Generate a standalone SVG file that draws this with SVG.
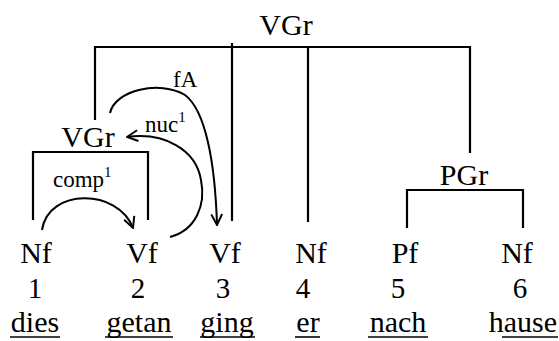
<svg xmlns="http://www.w3.org/2000/svg" width="559" height="341" viewBox="0 0 559 341">
  <style>
    text { font-family: "Liberation Serif", "DejaVu Serif", "Times New Roman", serif; fill: #000; }
    .cat { font-size: 30px; text-anchor: middle; }
    .num { font-size: 29px; text-anchor: middle; }
    .word { font-size: 30px; text-anchor: middle; }
    .lbl { font-size: 23px; }
    .sup { font-size: 15px; }
    .br { fill: none; stroke: #000; stroke-width: 2.2; }
    .arc { fill: none; stroke: #000; stroke-width: 2; }
    .ul { stroke: #000; stroke-width: 1.6; }
  </style>
  <defs>
    <marker id="arr" viewBox="0 0 12 12" refX="11" refY="6" markerWidth="13" markerHeight="13" markerUnits="userSpaceOnUse" orient="auto">
      <path d="M1,1 L11,6 L1,11" fill="none" stroke="#000" stroke-width="1.8"/>
    </marker>
  </defs>

  <rect width="559" height="341" fill="#fff"/>

  <!-- phrase nodes -->
  <g id="vgr-top">
    <text class="cat" x="286" y="35" font-family="Liberation Serif, serif">VGr</text>
  </g>
  <g id="vgr-inner">
    <text class="cat" x="88" y="147">VGr</text>
  </g>
  <g id="pgr">
    <text class="cat" x="464" y="185">PGr</text>
  </g>

  <!-- word nodes: category, position, underlined word form -->
  <g id="w1">
    <text class="cat" x="36" y="263">Nf</text>
    <text class="num" x="35" y="298">1</text>
    <text class="word" x="35" y="332">dies</text>
    <line class="ul" x1="10" y1="337" x2="60" y2="337"/>
  </g>
  <g id="w2">
    <text class="cat" x="142" y="263">Vf</text>
    <text class="num" x="138" y="298">2</text>
    <text class="word" x="139" y="332">getan</text>
    <line class="ul" x1="105" y1="337" x2="173" y2="337"/>
  </g>
  <g id="w3">
    <text class="cat" x="225" y="263">Vf</text>
    <text class="num" x="223" y="298">3</text>
    <text class="word" x="227" y="332">ging</text>
    <line class="ul" x1="200" y1="337" x2="255" y2="337"/>
  </g>
  <g id="w4">
    <text class="cat" x="311" y="263">Nf</text>
    <text class="num" x="303" y="298">4</text>
    <text class="word" x="308" y="332">er</text>
    <line class="ul" x1="295" y1="337" x2="320" y2="337"/>
  </g>
  <g id="w5">
    <text class="cat" x="405" y="263">Pf</text>
    <text class="num" x="398" y="298">5</text>
    <text class="word" x="398" y="332">nach</text>
    <line class="ul" x1="368" y1="337" x2="428" y2="337"/>
  </g>
  <g id="w6">
    <text class="cat" x="517" y="263">Nf</text>
    <text class="num" x="520" y="298">6</text>
    <text class="word" x="557" y="332" style="text-anchor:end">hause</text>
    <line class="ul" x1="502" y1="337" x2="558" y2="337"/>
  </g>

  <!-- connectors -->
  <g id="connectors">
    <!-- top VGr bracket -->
    <path class="br" d="M95,120 V47 H470 V153"/>
    <path class="br" d="M232,43 V221"/>
    <path class="br" d="M308,47 V222"/>
    <!-- inner VGr bracket -->
    <path class="br" d="M33,220 V152 H148 V220"/>
    <!-- PGr bracket -->
    <path class="br" d="M407,228 V190 H523 V228"/>

    <!-- dependency arcs -->
    <path class="arc" d="M42,230 C48,188 118,188 133,228" marker-end="url(#arr)"/>
    <path class="arc" d="M170,237 C196,230 206,205 201,180 C196,150 165,132 127,137" marker-end="url(#arr)"/>
    <path class="arc" d="M110,113 C115,90 160,80 185,95 C205,110 215,160 217,225" marker-end="url(#arr)"/>

    <!-- arc labels -->
    <text class="lbl" x="53" y="187">comp<tspan class="sup" dy="-10">1</tspan></text>
    <text class="lbl" x="145" y="132">nuc<tspan class="sup" dy="-10">1</tspan></text>
    <text class="lbl" x="173" y="87">fA</text>
  </g>
</svg>
